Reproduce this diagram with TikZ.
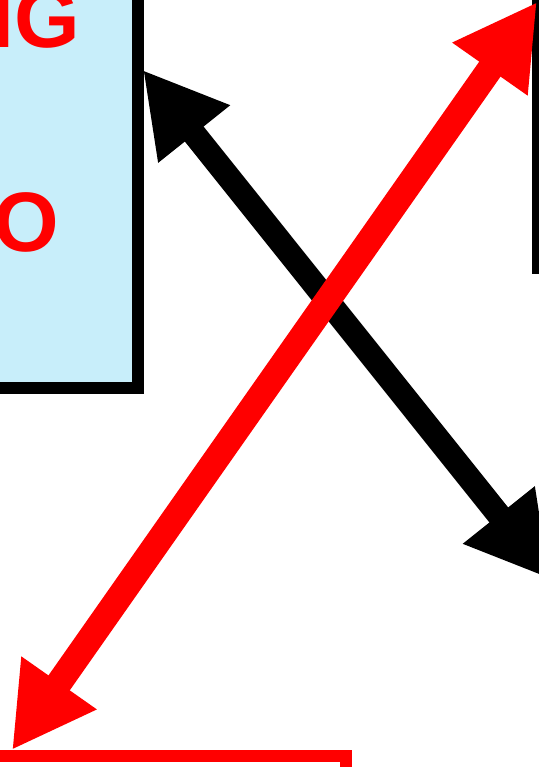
\documentclass[tikz,border=0pt]{standalone}
\usepackage{fontspec}
\setmainfont{Liberation Sans}
\usetikzlibrary{arrows.meta}
\definecolor{boxblue}{RGB}{200,238,250}
\tikzset{
	box/.style={draw,line width=1.2mm,inner sep=0,outer sep=0},
	label/.style={text=red,font=\bfseries\fontsize{24}{28}\selectfont,inner sep=0},
	bigarrow/.style={line width=#1,{Triangle[length=8.2mm,width=8.6mm]}-{Triangle[length=8.2mm,width=8.6mm]}}
}
\begin{document}
\begin{tikzpicture}[x=0.1mm,y=-0.1mm]
\useasboundingbox (0,0) rectangle (538,767);
% boxes, only partly in the picture
\node[box,fill=boxblue,minimum width=40mm,minimum height=50mm,anchor=south east] (learn) at (138,388) {};
\node[box,fill=white,minimum width=30mm,minimum height=40mm,anchor=south west] (right) at (538,268) {};
\node[box,draw=red,fill=white,minimum width=50mm,minimum height=30mm,anchor=north east] (bottom) at (346,756) {};
\node[label,anchor=base east] (ng) at (81,47) {NG};
\node[label,anchor=base east] (to) at (60,251) {O};
% arrow ends
\coordinate (blacka) at (143,70);
\coordinate (blackb) at (550,579);
\coordinate (reda) at (12,750);
\coordinate (redb) at (537,2);
\draw[bigarrow=2.4mm] (blacka) -- (blackb);
\draw[bigarrow=2.6mm,red] (reda) -- (redb);
\end{tikzpicture}
\end{document}
